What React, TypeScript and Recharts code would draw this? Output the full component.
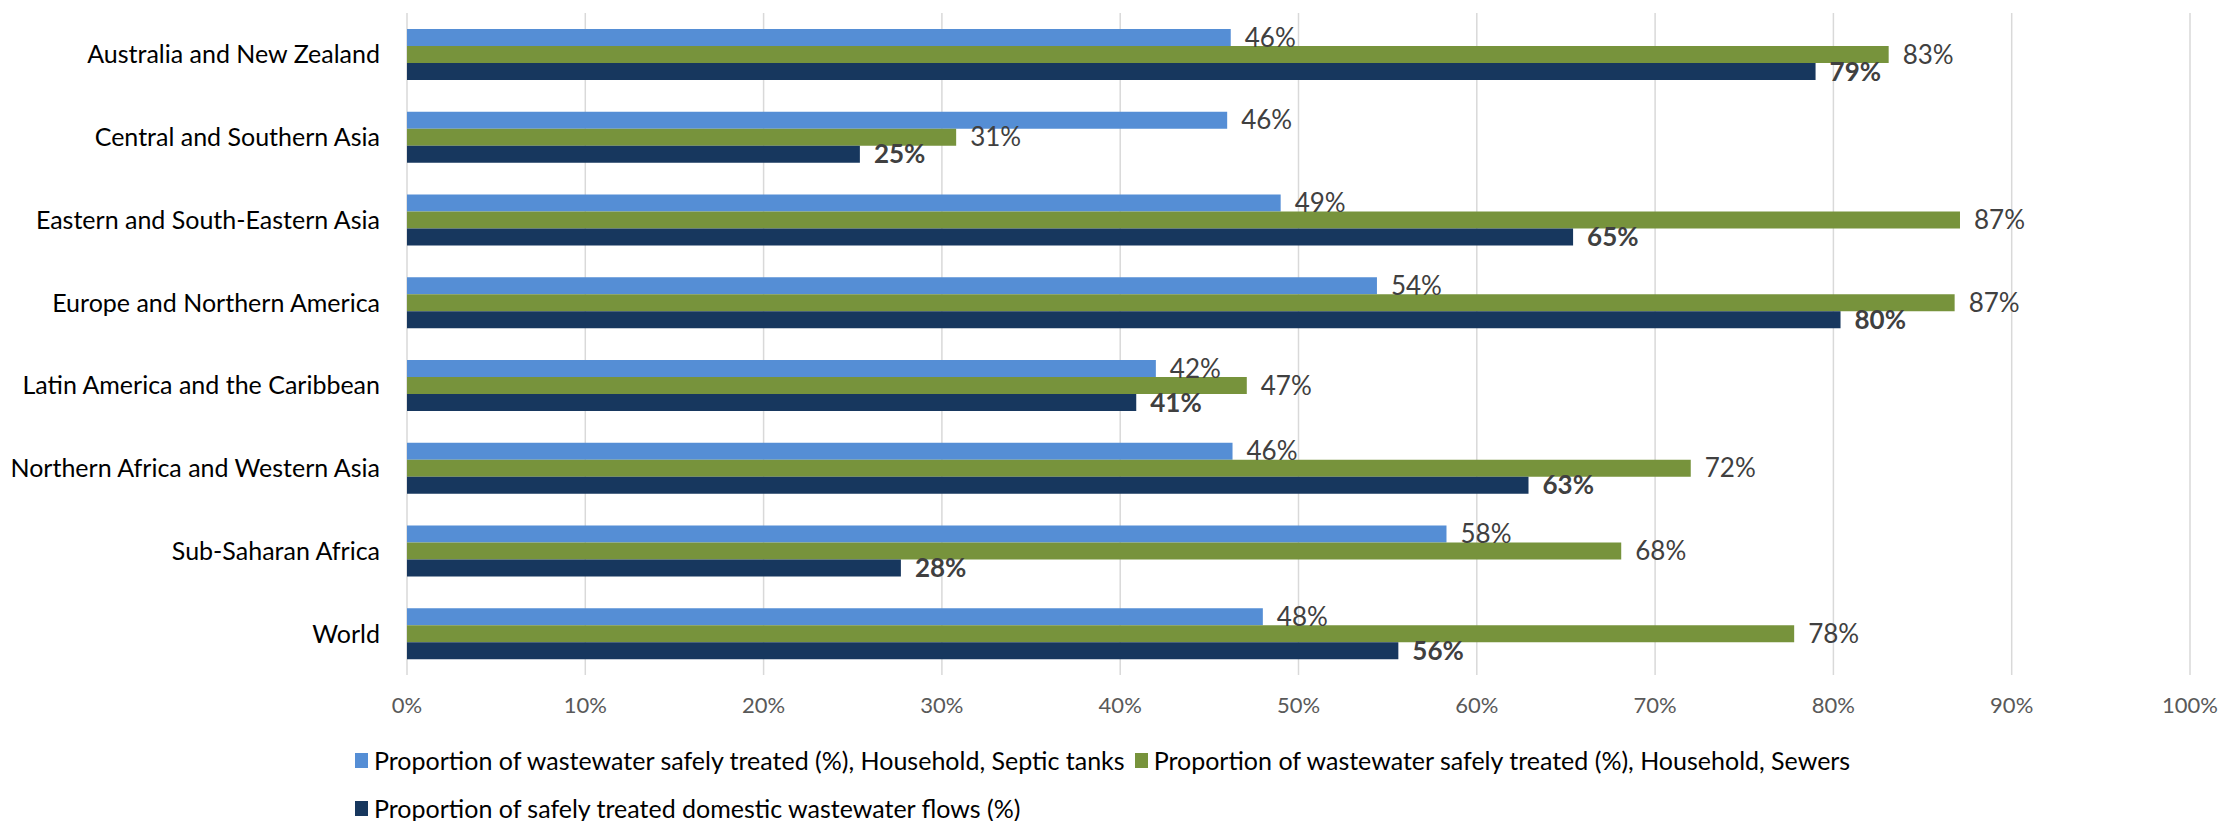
import { Bar, BarChart, CartesianGrid, LabelList, XAxis, YAxis } from "recharts"

const REGIONS = [
  "Australia and New Zealand",
  "Central and Southern Asia",
  "Eastern and South-Eastern Asia",
  "Europe and Northern America",
  "Latin America and the Caribbean",
  "Northern Africa and Western Asia",
  "Sub-Saharan Africa",
  "World",
]

const SEPTIC = [46.2, 46.0, 49.0, 54.4, 42.0, 46.3, 58.3, 48.0]
const SEWERS = [83.1, 30.8, 87.1, 86.8, 47.1, 72.0, 68.1, 77.8]
const FLOWS = [79.0, 25.4, 65.4, 80.4, 40.9, 62.9, 27.7, 55.6]

const X_TICKS = [0, 10, 20, 30, 40, 50, 60, 70, 80, 90, 100]

const SERIES = [
  { key: "septic", name: "Proportion of wastewater safely treated (%), Household, Septic tanks", color: "#558ED5", bold: false },
  { key: "sewers", name: "Proportion of wastewater safely treated (%), Household, Sewers", color: "#77933C", bold: false },
  { key: "flows", name: "Proportion of safely treated domestic wastewater flows (%)", color: "#17375E", bold: true },
]

const LEGEND_ROWS = [[0, 1], [2]]

const FONT = "Lato, 'Liberation Sans', sans-serif"

const rows = REGIONS.map((region, i) => ({
  region,
  septic: SEPTIC[i],
  sewers: SEWERS[i],
  flows: FLOWS[i],
}))

const pct = (v: number) => `${Math.round(v)}%`

function ChartLegend() {
  return (
    <div style={{ position: "absolute", left: 355, top: 736, fontFamily: FONT, fontSize: 25, color: "#000" }}>
      {LEGEND_ROWS.map((row, r) => (
        <div key={r} style={{ display: "flex", alignItems: "center", height: 48 }}>
          {row.map((idx) => (
            <div key={SERIES[idx].key} style={{ display: "flex", alignItems: "center", marginRight: 10 }}>
              <span style={{ width: 13, height: 15, background: SERIES[idx].color, marginRight: 6, display: "inline-block" }} />
              <span style={{ whiteSpace: "nowrap" }}>{SERIES[idx].name}</span>
            </div>
          ))}
        </div>
      ))}
    </div>
  )
}

export default function App() {
  return (
    <div style={{ position: "absolute", left: 0, top: 0, width: 2226, height: 821, background: "#fff" }}>
      <BarChart
        width={2226}
        height={821}
        data={rows}
        layout="vertical"
        margin={{ top: 13, right: 36, left: 0, bottom: 86 }}
        barSize={17}
        barGap={0}
        style={{ fontFamily: FONT }}
      >
        <CartesianGrid horizontal={false} stroke="#d9d9d9" strokeWidth={1.5} />
        <XAxis
          type="number"
          domain={[0, 100]}
          ticks={X_TICKS}
          tickFormatter={(v) => `${v}%`}
          axisLine={false}
          tickLine={false}
          tickSize={0}
          tickMargin={22}
          height={60}
          tick={{ fill: "#595959", fontSize: 22, fontFamily: FONT }}
        />
        <YAxis
          type="category"
          dataKey="region"
          width={407}
          axisLine={false}
          tickLine={false}
          tickSize={0}
          tickMargin={27}
          tick={{ fill: "#000", fontSize: 25, fontFamily: FONT }}
        />
        {SERIES.map((s) => (
          <Bar key={s.key} dataKey={s.key} name={s.name} fill={s.color} isAnimationActive={false}>
            <LabelList
              dataKey={s.key}
              position="right"
              offset={14}
              formatter={(v: number) => pct(v)}
              style={{ fill: "#404040", fontSize: 26, fontFamily: FONT, fontWeight: s.bold ? 700 : 400 }}
            />
          </Bar>
        ))}
      </BarChart>
      <ChartLegend />
    </div>
  )
}
